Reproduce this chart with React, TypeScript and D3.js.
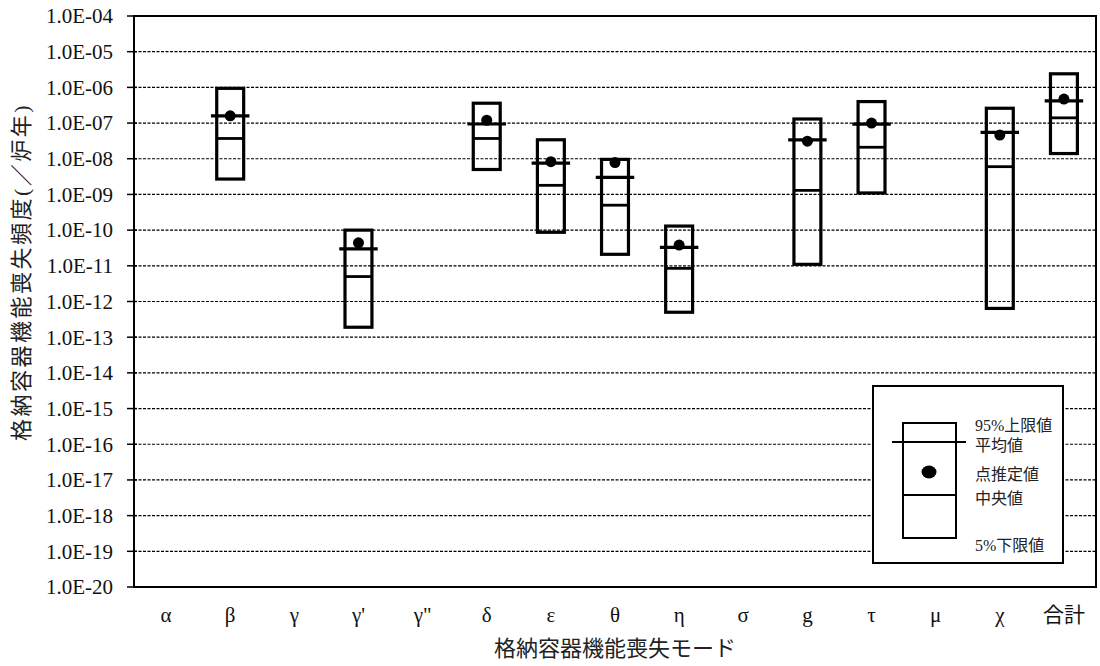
import React from 'react';
import * as d3 from 'd3';

// failure modes along the x axis
const categories = ['α', 'β', 'γ', "γ'", 'γ"', 'δ', 'ε', 'θ', 'η', 'σ', 'g', 'τ', 'μ', 'χ', '合計'];

// null = no estimate for that mode
const upper95 = [null, 9.4e-7, null, 1.0e-10, null, 3.6e-7, 3.4e-8, 9.6e-9, 1.3e-10, null, 1.3e-7, 4.0e-7, null, 2.6e-7, 2.4e-6];
const meanVals = [null, 1.6e-7, null, 3.0e-11, null, 9.4e-8, 7.5e-9, 3.0e-9, 3.3e-11, null, 3.4e-8, 9.3e-8, null, 5.5e-8, 4.2e-7];
const pointVals = [null, 1.6e-7, null, 4.4e-11, null, 1.2e-7, 8.3e-9, 7.8e-9, 3.8e-11, null, 3.1e-8, 1.0e-7, null, 4.6e-8, 4.7e-7];
const medianVals = [null, 3.7e-8, null, 5.0e-12, null, 3.7e-8, 1.8e-9, 5.0e-10, 8.5e-12, null, 1.3e-9, 2.1e-8, null, 6.0e-9, 1.4e-7];
const lower5 = [null, 2.7e-9, null, 1.9e-13, null, 5.0e-9, 8.7e-11, 2.1e-11, 5.0e-13, null, 1.1e-11, 1.1e-9, null, 6.4e-13, 1.4e-8];

const yTicks = [1e-4, 1e-5, 1e-6, 1e-7, 1e-8, 1e-9, 1e-10, 1e-11, 1e-12, 1e-13, 1e-14, 1e-15, 1e-16, 1e-17, 1e-18, 1e-19, 1e-20];
const yTickLabels = ['1.0E-04', '1.0E-05', '1.0E-06', '1.0E-07', '1.0E-08', '1.0E-09', '1.0E-10', '1.0E-11', '1.0E-12', '1.0E-13', '1.0E-14', '1.0E-15', '1.0E-16', '1.0E-17', '1.0E-18', '1.0E-19', '1.0E-20'];

const legendLabels = ['95%上限値', '平均値', '点推定値', '中央値', '5%下限値'];

const W = 1100;
const H = 666;
const plot = { left: 134, right: 1096, top: 16, bottom: 587 };
const serif = "'Liberation Serif', 'DejaVu Serif', 'Noto Sans CJK JP', serif";

const App = () => {
  const x = d3.scaleBand<string>().domain(categories).range([plot.left, plot.right]);
  const y = d3.scaleLog().domain([1e-20, 1e-4]).range([plot.bottom, plot.top]);
  const bw = x.bandwidth();
  const boxW = bw * 0.42;
  const meanW = bw * 0.6;

  const rows = categories
    .map((c, i) => ({ c, hi: upper95[i], mean: meanVals[i], pt: pointVals[i], med: medianVals[i], lo: lower5[i] }))
    .filter((d) => d.hi != null);

  // legend block
  const lg = { x: 873, y: 386, w: 190, h: 177 };
  const txt = { fontFamily: serif };

  return (
    <div style={{ position: 'absolute', left: 0, top: 0 }}>
      <svg width={W} height={H} style={{ display: 'block', background: '#fff', fontFamily: serif }}>
        {/* dashed grid */}
        {yTicks.slice(1, -1).map((t) => (
          <line key={t} x1={plot.left} x2={plot.right} y1={y(t)} y2={y(t)}
            stroke="#000" strokeWidth={1.2} strokeDasharray="3,1.5" />
        ))}

        {/* frame */}
        <rect x={plot.left} y={plot.top} width={plot.right - plot.left} height={plot.bottom - plot.top}
          fill="none" stroke="#000" strokeWidth={2} />

        {/* y ticks + labels */}
        {yTicks.map((t, i) => (
          <g key={t}>
            <line x1={plot.left - 7} x2={plot.left + 3} y1={y(t)} y2={y(t)} stroke="#000" strokeWidth={1.5} />
            <text x={113} y={y(t)} dy="0.35em" textAnchor="end" style={txt} fontSize={21} fill="#111">
              {yTickLabels[i]}
            </text>
          </g>
        ))}

        {/* category labels */}
        {categories.map((c) => (
          <text key={c} x={x(c)! + bw / 2} y={622} textAnchor="middle" style={txt} fontSize={21} fill="#111">
            {c}
          </text>
        ))}

        {/* boxes */}
        {rows.map((d) => {
          const cx = x(d.c)! + bw / 2;
          return (
            <g key={d.c}>
              <rect x={cx - boxW / 2} y={y(d.hi!)} width={boxW} height={y(d.lo!) - y(d.hi!)}
                fill="none" stroke="#000" strokeWidth={3.2} />
              <line x1={cx - boxW / 2} x2={cx + boxW / 2} y1={y(d.med!)} y2={y(d.med!)} stroke="#000" strokeWidth={2.8} />
              <line x1={cx - meanW / 2} x2={cx + meanW / 2} y1={y(d.mean!)} y2={y(d.mean!)} stroke="#000" strokeWidth={3.2} />
              <circle cx={cx} cy={y(d.pt!)} r={5.5} fill="#000" />
            </g>
          );
        })}

        {/* axis titles */}
        <text transform="translate(21,272) rotate(-90)" textAnchor="middle" dominantBaseline="central"
          style={{ ...txt, letterSpacing: 2.5 }} fontSize={22} fill="#222">
          格納容器機能喪失頻度(／炉年)
        </text>
        <text x={(plot.left + plot.right) / 2} y={648} textAnchor="middle" dominantBaseline="central"
          style={txt} fontSize={22} fill="#222">
          格納容器機能喪失モード
        </text>

        {/* legend */}
        <g>
          <rect x={lg.x} y={lg.y} width={lg.w} height={lg.h} fill="#fff" stroke="#000" strokeWidth={2} />
          <rect x={903} y={423} width={53} height={115} fill="none" stroke="#000" strokeWidth={2} />
          <line x1={892} x2={966} y1={442} y2={442} stroke="#000" strokeWidth={2} />
          <line x1={903} x2={956} y1={495} y2={495} stroke="#000" strokeWidth={2} />
          <ellipse cx={929} cy={472} rx={7.5} ry={6.5} fill="#000" />
          {legendLabels.map((l, i) => (
            <text key={l} x={975} y={[425, 445, 474, 498, 545][i]} dy="0.35em" style={txt} fontSize={16} fill="#222">
              {l}
            </text>
          ))}
        </g>
      </svg>
    </div>
  );
};

export default App;
